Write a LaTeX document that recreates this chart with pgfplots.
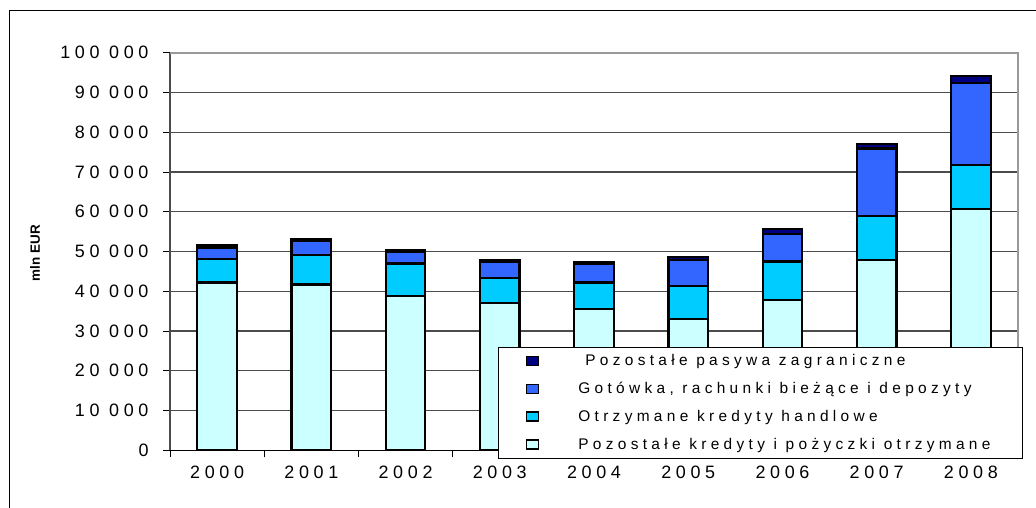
\documentclass[border=0pt]{standalone}
\usepackage{pgfplots}
\pgfplotsset{compat=1.18}
\usepackage{pgfplotstable}
\usepackage{fontspec}
\setmainfont{Liberation Sans}
\newfontfamily\spaced[LetterSpace=26]{Liberation Sans}
\newfontfamily\spacedL[LetterSpace=28]{Liberation Sans}
\definecolor{cDark}{HTML}{000080}
\definecolor{cBlue}{HTML}{3366FF}
\definecolor{cCyan}{HTML}{00CCFF}
\definecolor{cLight}{HTML}{CCFFFF}

\pgfplotstableread{
x light cyan blue dark
0 42200 6000 2800 600
1 41700 7400 3500 600
2 38800 8200 2800 500
3 37100 6200 4100 500
4 35500 6700 4700 500
5 33000 8300 6600 800
6 37800 9700 7000 1200
7 47900 11000 17000 1200
8 60700 11100 20600 1800
}\datatable

\begin{document}
\begin{tikzpicture}
\path[use as bounding box] (0bp,0bp) rectangle (1036bp,508bp);
\draw[line width=1.3bp] (9.3bp,0bp) -- (9.3bp,497.7bp) -- (1036bp,497.7bp);
\node[rotate=90, font=\bfseries\fontsize{13.5}{15}\selectfont] at (35bp,255bp) {mln EUR};
\begin{axis}[
  at={(170bp,57.7bp)}, anchor=south west,
  scale only axis, width=848bp, height=397.5bp,
  xmin=-0.5, xmax=8.5, ymin=0, ymax=100000,
  scaled y ticks=false,
  clip=false,
  ybar stacked, bar width=0.42,
  axis line style={draw=none},
  tick pos=left,
  tick align=outside,
  major tick length=7bp,
  tick style={black, line width=1bp},
  xtick={-0.5,0.5,1.5,2.5,3.5,4.5,5.5,6.5,7.5,8.5},
  x tick label as interval,
  xticklabels={2000,2001,2002,2003,2004,2005,2006,2007,2008},
  ytick={0,10000,20000,30000,40000,50000,60000,70000,80000,90000,100000},
  yticklabels={0,10 000,20 000,30 000,40 000,50 000,60 000,70 000,80 000,90 000,100 000},
  ticklabel style={font=\spaced\fontsize{18}{20}\selectfont},
  yticklabel style={xshift=-11bp},
  xticklabel style={yshift=-5bp},
  ymajorgrids=true,
  major grid style={black!70, line width=1.1bp},
  legend style={
    at={(rel axis cs:1.00555,0.2606)}, anchor=north east,
    draw=black, line width=0.8bp, fill=white,
    inner xsep=0pt, inner ysep=0pt,
    nodes={inner sep=0pt},
    row sep=0pt, column sep=0pt,
    font=\spacedL\fontsize{15.5}{18}\selectfont,
  },
  legend cell align=left,
  reverse legend,
  legend image code/.code={
    \path (0bp,-12.8bp) (0bp,12.8bp) (78bp,0bp);
    \draw[#1, line width=1.4bp] (27bp,-4.5bp) rectangle (39bp,4.5bp);
  },
]
\addplot[fill=cLight, draw=black, line width=2.2bp] table[x=x,y=light] {\datatable};
\addlegendentry{\makebox[444bp][l]{Pozostałe kredyty i pożyczki otrzymane}}
\addplot[fill=cCyan, draw=black, line width=2.2bp] table[x=x,y=cyan] {\datatable};
\addlegendentry{\makebox[444bp][l]{Otrzymane kredyty handlowe}}
\addplot[fill=cBlue, draw=black, line width=2.2bp] table[x=x,y=blue] {\datatable};
\addlegendentry{\makebox[444bp][l]{Gotówka, rachunki bieżące i depozyty}}
\addplot[fill=cDark, draw=black, line width=2.2bp] table[x=x,y=dark] {\datatable};
\addlegendentry{\makebox[444bp][l]{\hspace{7bp}Pozostałe pasywa zagraniczne}}
\draw[black!40, line width=2bp] (rel axis cs:0,1) -- (rel axis cs:1,1) -- (rel axis cs:1,0);
\draw[black!70, line width=2bp] (rel axis cs:0,0) -- (rel axis cs:0,1);
\draw[black, line width=1.5bp] (rel axis cs:0,0) -- (rel axis cs:1,0);
\end{axis}
\end{tikzpicture}
\end{document}
